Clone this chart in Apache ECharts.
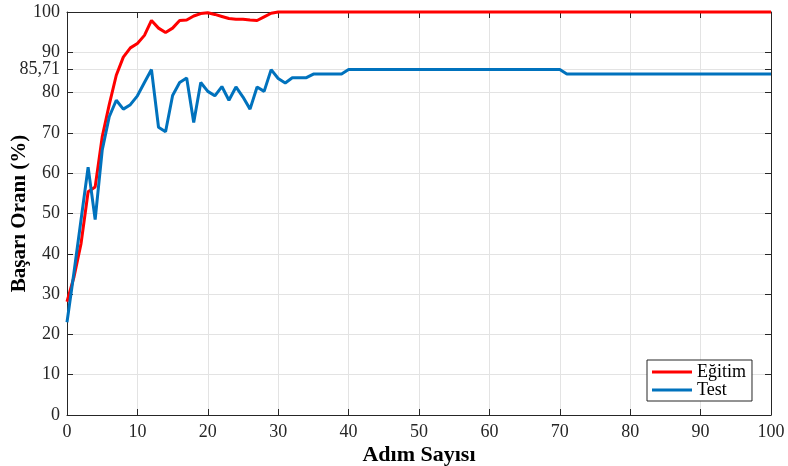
<!DOCTYPE html>
<html>
<head>
<meta charset="utf-8">
<script src="https://cdn.jsdelivr.net/npm/echarts@6/dist/echarts.min.js"></script>
<style>
  html, body { margin: 0; padding: 0; background: #fff; }
  #chart { width: 788px; height: 466px; }
</style>
</head>
<body>
<div id="chart"></div>
<script>
// adım sayısı 0..100
const steps = Array.from({length: 101}, (_, i) => i)

// Eğitim başarı oranı (%)
const egitim = [
  28.1, 34.3, 42.6, 55.4, 56.6, 69.0, 77.0, 84.3, 88.8, 91.1,
  92.2, 94.2, 97.9, 96.0, 94.9, 96.0, 97.9, 98.0, 99.0, 99.6,
  99.8, 99.4, 98.9, 98.4, 98.2, 98.2, 98.0, 97.9, 98.8, 99.7,
  100, 100, 100, 100, 100, 100, 100, 100, 100, 100,
  100, 100, 100, 100, 100, 100, 100, 100, 100, 100,
  100, 100, 100, 100, 100, 100, 100, 100, 100, 100,
  100, 100, 100, 100, 100, 100, 100, 100, 100, 100,
  100, 100, 100, 100, 100, 100, 100, 100, 100, 100,
  100, 100, 100, 100, 100, 100, 100, 100, 100, 100,
  100, 100, 100, 100, 100, 100, 100, 100, 100, 100,
  100
]

// Test başarı oranı (%)
const test = [
  23.0, 35.5, 48.5, 61.5, 48.5, 65.7, 74.0, 78.1, 75.9, 77.0,
  79.2, 82.5, 85.71, 71.4, 70.3, 79.3, 82.5, 83.6, 72.6, 82.5,
  80.3, 79.2, 81.5, 78.1, 81.4, 78.9, 75.9, 81.4, 80.3, 85.71,
  83.5, 82.4, 83.7, 83.7, 83.7, 84.6, 84.6, 84.6, 84.6, 84.6,
  85.71, 85.71, 85.71, 85.71, 85.71, 85.71, 85.71, 85.71, 85.71, 85.71,
  85.71, 85.71, 85.71, 85.71, 85.71, 85.71, 85.71, 85.71, 85.71, 85.71,
  85.71, 85.71, 85.71, 85.71, 85.71, 85.71, 85.71, 85.71, 85.71, 85.71,
  85.71, 84.6, 84.6, 84.6, 84.6, 84.6, 84.6, 84.6, 84.6, 84.6,
  84.6, 84.6, 84.6, 84.6, 84.6, 84.6, 84.6, 84.6, 84.6, 84.6,
  84.6, 84.6, 84.6, 84.6, 84.6, 84.6, 84.6, 84.6, 84.6, 84.6,
  84.6
]

const yTicks = [0, 10, 20, 30, 40, 50, 60, 70, 80, 85.71, 90, 100]

const font = 'Liberation Serif'
const axisColor = '#262626'

const chart = echarts.init(document.getElementById('chart'))
chart.setOption({
  animation: false,
  grid: { left: 67, right: 17, top: 12, bottom: 51, outerBoundsMode: 'none' },
  legend: {
    data: ['Eğitim', 'Test'],
    orient: 'vertical',
    left: 647,
    top: 360,
    padding: [3, 6, 2, 5],
    itemGap: 0,
    itemWidth: 40,
    itemHeight: 3,
    icon: 'rect',
    backgroundColor: '#fff',
    borderColor: axisColor,
    borderWidth: 1,
    borderRadius: 0,
    textStyle: { fontFamily: font, fontSize: 18, color: '#000', lineHeight: 18 }
  },
  xAxis: [
    {
      type: 'value',
      min: 0, max: 100, interval: 10,
      name: 'Adım Sayısı',
      nameLocation: 'middle',
      nameGap: 29,
      nameMoveOverlap: false,
      nameTextStyle: { fontFamily: font, fontSize: 22, fontWeight: 'bold', color: '#000' },
      axisLine: { onZero: false, lineStyle: { color: axisColor, width: 1 } },
      axisTick: { inside: true, length: 6, lineStyle: { color: axisColor } },
      axisLabel: { fontFamily: font, fontSize: 18, color: axisColor, margin: 8 },
      splitLine: { show: true, lineStyle: { color: '#e3e3e3', width: 1 } }
    },
    {
      type: 'value',
      position: 'top',
      min: 0, max: 100, interval: 10,
      axisLine: { onZero: false, lineStyle: { color: axisColor, width: 1 } },
      axisTick: { inside: true, length: 6, lineStyle: { color: axisColor } },
      axisLabel: { show: false },
      splitLine: { show: false }
    }
  ],
  yAxis: [
    {
      type: 'value',
      min: 0, max: 100, interval: 10,
      name: 'Başarı Oranı (%)',
      nameLocation: 'middle',
      nameGap: 37,
      nameMoveOverlap: false,
      nameRotate: 90,
      nameTextStyle: { fontFamily: font, fontSize: 21, fontWeight: 'bold', color: '#000' },
      axisLine: { show: true, onZero: false, lineStyle: { color: axisColor, width: 1 } },
      axisTick: { show: true, inside: true, length: 6, lineStyle: { color: axisColor }, customValues: yTicks },
      axisLabel: {
        fontFamily: font, fontSize: 18, color: axisColor, margin: 7,
        customValues: yTicks,
        formatter: (v) => String(v).replace('.', ',')
      },
      splitLine: { show: true, lineStyle: { color: '#e3e3e3', width: 1 } }
    },
    {
      type: 'value',
      position: 'right',
      min: 0, max: 100, interval: 10,
      axisLine: { show: true, onZero: false, lineStyle: { color: axisColor, width: 1 } },
      axisTick: { show: true, inside: true, length: 6, lineStyle: { color: axisColor }, customValues: yTicks },
      axisLabel: { show: false },
      splitLine: { show: false }
    }
  ],
  series: [
    {
      name: 'Eğitim',
      type: 'line',
      data: steps.map((s, i) => [s, egitim[i]]),
      showSymbol: false,
      clip: false,
      color: '#ff0000',
      lineStyle: { color: '#ff0000', width: 3 },
      z: 3
    },
    {
      name: 'Test',
      type: 'line',
      data: steps.map((s, i) => [s, test[i]]),
      showSymbol: false,
      clip: false,
      color: '#0072bd',
      lineStyle: { color: '#0072bd', width: 3 },
      z: 4
    }
  ]
})
</script>
</body>
</html>
